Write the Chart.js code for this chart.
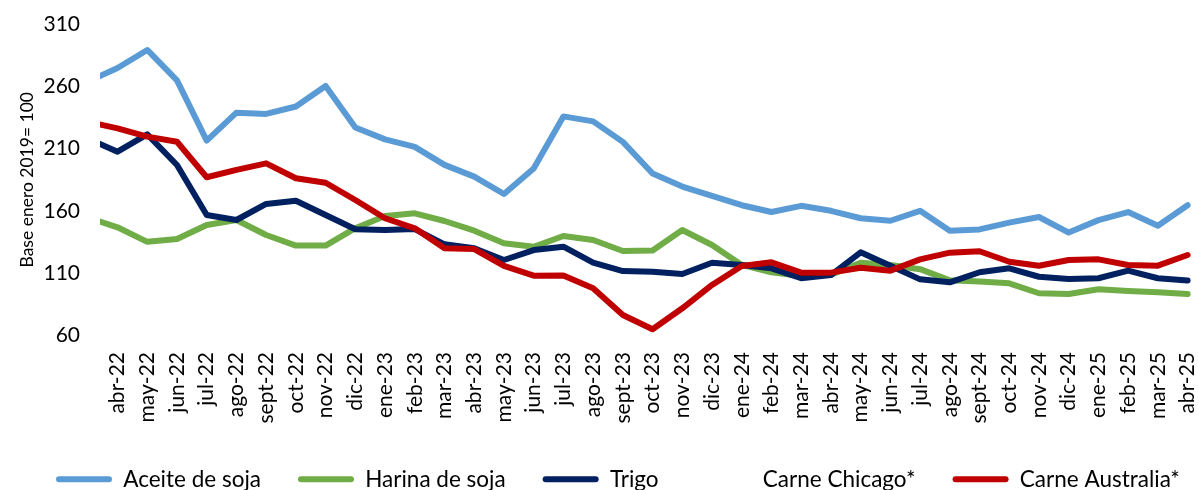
<!DOCTYPE html>
<html>
<head>
<meta charset="utf-8">
<script src="https://cdn.jsdelivr.net/npm/chart.js@4"></script>
<style>
  html, body { margin: 0; padding: 0; background: #fff; overflow: hidden; }
  #wrap { position: relative; width: 1198px; height: 503px; }
</style>
</head>
<body>
<div id="wrap"><canvas id="c" width="1198" height="503"></canvas></div>
<script>
// Months (first one, mar-22, lies just left of the visible plot edge)
const months = ['mar-22','abr-22','may-22','jun-22','jul-22','ago-22','sept-22','oct-22','nov-22','dic-22',
  'ene-23','feb-23','mar-23','abr-23','may-23','jun-23','jul-23','ago-23','sept-23','oct-23','nov-23','dic-23',
  'ene-24','feb-24','mar-24','abr-24','may-24','jun-24','jul-24','ago-24','sept-24','oct-24','nov-24','dic-24',
  'ene-25','feb-25','mar-25','abr-25'];

const aceiteSoja = [264, 275, 289.5, 265, 216.5, 239, 238, 244, 260.5, 227,
  217.5, 211.5, 197, 187.5, 173.5, 194, 236, 232, 215.5, 190, 179.5, 172,
  164.5, 159, 164, 160, 154, 152, 160, 144, 145, 150.5, 155, 142.5,
  152.5, 159, 148, 164.5];

const harinaSoja = [154.5, 146.7, 135, 137.3, 148.6, 152.6, 140.5, 132, 132, 146,
  155.8, 158, 151.8, 144, 133.8, 131, 139.7, 136.5, 127.6, 128, 144.5, 132.5,
  116.4, 110.5, 107.5, 108.5, 118.2, 116.4, 113, 104, 103, 101.6, 93.6, 93,
  96.8, 95.4, 94.4, 93];

const trigo = [218, 207.6, 221.6, 196.9, 156.6, 152.6, 165.5, 168.1, 156.6, 145.1,
  144.5, 145.3, 133, 129.8, 120.4, 128.4, 131.1, 118.2, 111.5, 111, 109.1, 118.2,
  116.4, 113.7, 105.7, 108.3, 126.6, 115.8, 104.8, 102.4, 110.5, 113.7, 106.9, 105.1,
  105.7, 111.8, 105.7, 103.8];

const carneChicago = [];

const carneAustralia = [231.6, 226.4, 219.7, 215.6, 187, 192.9, 198.2, 186.2, 182.6, 168.7,
  154, 145.9, 129.8, 129.2, 115.6, 107.8, 108, 97.6, 76.1, 64.6, 81.5, 100.3,
  115.6, 118.5, 110.2, 110.2, 114.2, 111.8, 120.9, 126.3, 127.4, 119, 115.8, 120.4,
  120.9, 116.4, 115.8, 124.4];

const yTicks = [60, 110, 160, 210, 260, 310];

const toPts = arr => arr.map((v, i) => ({ x: i, y: v }));
const FONT = 'Lato, "Open Sans", sans-serif';

function ds(label, data, color, order) {
  return {
    label, data: toPts(data), borderColor: color, backgroundColor: color,
    borderWidth: 6, pointRadius: 0, pointHoverRadius: 0, tension: 0,
    borderCapStyle: 'round', borderJoinStyle: 'round', fill: false,
    clip: { left: 0, top: false, right: false, bottom: false }, order
  };
}

// keep the legend on a single row, starting at the reference's left position
const legendRow = {
  id: 'legendRow',
  afterInit(chart) {
    const lg = chart.legend;
    if (!lg) return;
    const fit = lg.fit.bind(lg);
    lg.fit = function () {
      const mw = this.maxWidth;
      this.maxWidth = 5000;
      fit();
      this.maxWidth = mw;
      this.width = mw;
      this.height = 72;
    };
  },
  afterLayout(chart) {
    const lg = chart.legend;
    if (!lg || !lg.lineWidths) return;
    const p = lg.options.labels.padding;
    const lw = lg.lineWidths[0];
    lg.right = 3000;
    lg.left = 2 * 56 - p - lg.right + lw;
  }
};

new Chart(document.getElementById('c'), {
  type: 'line',
  data: {
    datasets: [
      ds('Aceite de soja', aceiteSoja, '#5B9BD5', 5),
      ds('Harina de soja', harinaSoja, '#70AD47', 4),
      ds('Trigo', trigo, '#002060', 3),
      ds('Carne Chicago*', carneChicago, 'rgba(255,255,255,0)', 2),
      ds('Carne Australia*', carneAustralia, '#C00000', 1)
    ]
  },
  plugins: [legendRow],
  options: {
    responsive: false,
    animation: false,
    events: [],
    layout: { padding: { top: 24.5, right: 0, bottom: 0, left: 0 } },
    scales: {
      x: {
        type: 'linear',
        min: 0.41,
        max: 37.35,
        grid: { display: false, drawTicks: false },
        border: { display: false },
        afterFit: s => { s.height = 96; s.paddingLeft = 0; s.paddingRight = 0; },
        ticks: {
          stepSize: 1,
          includeBounds: false,
          autoSkip: false,
          minRotation: 90,
          maxRotation: 90,
          padding: 17,
          color: '#000',
          font: { family: FONT, size: 21 },
          callback: v => (Number.isInteger(v) && months[v] !== undefined) ? months[v] : ''
        }
      },
      y: {
        min: 60,
        max: 310,
        afterBuildTicks: s => { s.ticks = yTicks.map(v => ({ value: v })); },
        afterFit: s => { s.width = 100; s.paddingTop = 0; s.paddingBottom = 0; },
        grid: { display: false, drawTicks: false },
        border: { display: false },
        ticks: {
          padding: 20,
          color: '#000',
          font: { family: FONT, size: 21 }
        },
        title: {
          display: true,
          text: 'Base enero 2019= 100',
          color: '#000',
          font: { family: FONT, size: 17.5 },
          padding: { top: 17, bottom: 0 }
        }
      }
    },
    plugins: {
      tooltip: { enabled: false },
      legend: {
        position: 'bottom',
        labels: {
          sort: (a, b) => a.datasetIndex - b.datasetIndex,
          boxWidth: 56,
          boxHeight: 6,
          useBorderRadius: true,
          borderRadius: 3,
          padding: 37,
          color: '#000',
          font: { family: FONT, size: 22.5 },
          generateLabels: chart => chart.data.datasets.map((d, i) => ({
            text: d.label, fillStyle: d.borderColor, strokeStyle: d.borderColor,
            lineWidth: 0, datasetIndex: i, hidden: false, fontColor: '#000',
            borderRadius: 3
          }))
        }
      }
    }
  }
});
</script>
</body>
</html>
